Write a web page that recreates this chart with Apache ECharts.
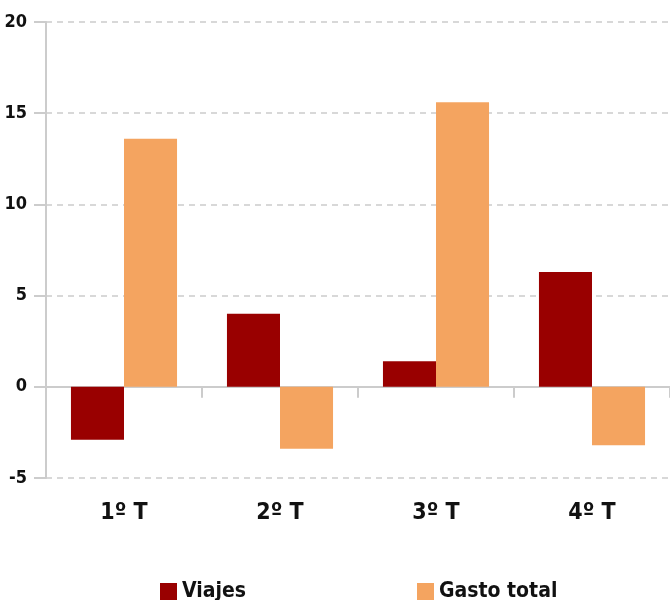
<!DOCTYPE html>
<html>
<head>
<meta charset="utf-8">
<script src="https://cdn.jsdelivr.net/npm/echarts@6/dist/echarts.min.js"></script>
<style>
  html, body { margin: 0; padding: 0; background: #fff; }
  #chart { width: 670px; height: 600px; }
</style>
</head>
<body>
<div id="chart"></div>
<script>
// quarters and yearly change (%)
var quarters = ['1º T', '2º T', '3º T', '4º T'];
var viajes = [-2.9, 4.0, 1.4, 6.3];
var gastoTotal = [13.6, -3.4, 15.6, -3.2];
var yTicks = { min: -5, max: 20, interval: 5 };

var font = "'DejaVu Sans Condensed', 'Liberation Sans Narrow', sans-serif";
var chart = echarts.init(document.getElementById('chart'));

var legendText = { fontFamily: font, fontWeight: 'bold', fontSize: 21, color: '#111' };

var option = {
  animation: false,
  color: ['#990000', '#F4A460'],
  grid: { left: 46, right: 0, top: 22, bottom: 122 },
  legend: [{
    left: 155, top: 576,
    itemWidth: 17, itemHeight: 17, itemGap: 8,
    icon: 'rect',
    textStyle: legendText,
    data: ['Viajes']
  }, {
    left: 412, top: 576,
    itemWidth: 17, itemHeight: 17, itemGap: 8,
    icon: 'rect',
    textStyle: legendText,
    data: ['Gasto total']
  }],
  xAxis: [{
    type: 'category',
    data: quarters,
    position: 'bottom',
    axisLine: { show: false, onZero: false },
    axisTick: { show: false },
    axisLabel: { margin: 24, fontFamily: font, fontWeight: 'bold', fontSize: 23, color: '#111' }
  }, {
    type: 'category',
    data: quarters,
    position: 'bottom',
    axisLine: { show: true, onZero: true, lineStyle: { color: '#ccc', width: 2 } },
    axisTick: { show: true, length: 11, lineStyle: { color: '#ccc', width: 2 } },
    axisLabel: { show: false }
  }],
  yAxis: {
    type: 'value',
    min: yTicks.min, max: yTicks.max, interval: yTicks.interval,
    axisLine: { show: true, lineStyle: { color: '#ccc', width: 2 } },
    axisTick: { show: true, length: 12, lineStyle: { color: '#ccc', width: 2 } },
    axisLabel: { margin: 19, fontFamily: font, fontWeight: 'bold', fontSize: 18, color: '#111' },
    splitLine: { show: true, lineStyle: { color: '#ccc', type: [6, 5], width: 1.5 } }
  },
  series: [{
    name: 'Viajes',
    type: 'bar',
    data: viajes,
    barGap: '0%',
    barCategoryGap: '32%'
  }, {
    name: 'Gasto total',
    type: 'bar',
    data: gastoTotal,
    barGap: '0%',
    barCategoryGap: '32%'
  }]
};

chart.setOption(option);
</script>
</body>
</html>
